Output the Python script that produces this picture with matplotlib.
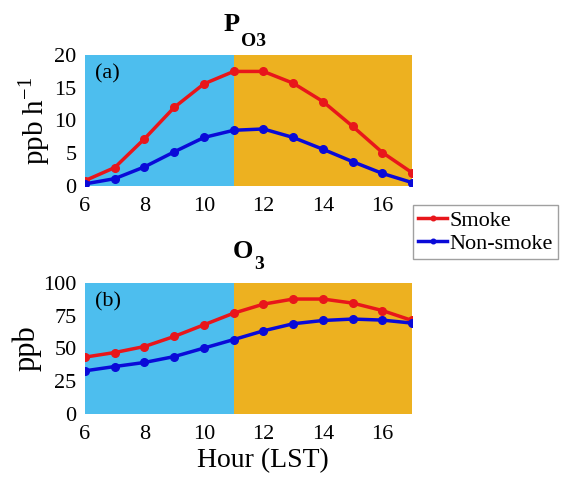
import matplotlib
matplotlib.use("Agg")
import matplotlib.pyplot as plt

plt.rcParams['font.family'] = ['Liberation Serif', 'DejaVu Serif']
plt.rcParams['mathtext.fontset'] = 'stix'

hours = [6, 7, 8, 9, 10, 11, 12, 13, 14, 15, 16, 17]
po3_smoke = [0.8, 2.8, 7.2, 12.0, 15.6, 17.5, 17.5, 15.7, 12.9, 9.1, 5.1, 2.0]
po3_nonsmoke = [0.3, 1.1, 2.9, 5.2, 7.4, 8.5, 8.7, 7.4, 5.6, 3.7, 1.9, 0.5]
o3_smoke = [43.4, 46.9, 51.5, 59.2, 68.1, 77.0, 83.9, 87.8, 87.8, 84.7, 79.0, 71.4]
o3_nonsmoke = [32.9, 36.2, 39.3, 43.8, 50.3, 56.8, 63.5, 68.9, 71.4, 72.5, 71.7, 69.4]

blue_bg = '#4DBEEE'
orange_bg = '#EDB120'
red = '#E8161B'
blue = '#0A0AD8'

fig = plt.figure(figsize=(5.63, 4.79), dpi=100)
ax1 = fig.add_axes([0.151, 0.612, 0.581, 0.273])
ax2 = fig.add_axes([0.151, 0.136, 0.581, 0.273])

def style(ax, ymax, yticks, label, tag, lsize, lpad):
    ax.axvspan(6, 11, color=blue_bg, zorder=0, lw=0)
    ax.axvspan(11, 17, color=orange_bg, zorder=0, lw=0)
    ax.set_xlim(6, 17)
    ax.set_ylim(0, ymax)
    ax.set_xticks([6, 8, 10, 12, 14, 16])
    ax.set_yticks(yticks)
    ax.tick_params(labelsize=16, length=0)
    ax.tick_params(axis='x', pad=8)
    ax.tick_params(axis='y', pad=6)
    for s in ax.spines.values():
        s.set_visible(False)
    ax.set_ylabel(label, fontsize=lsize, labelpad=lpad)
    ax.text(0.03, 0.93, tag, transform=ax.transAxes, fontsize=16, va='top')

def title(ax, main, sub, x, main_dy, sub_dy):
    ax.annotate(main, (x, 1), xycoords='axes fraction', xytext=(0, main_dy),
                textcoords='offset points', ha='right', va='baseline',
                fontsize=19, fontweight='bold')
    ax.annotate(sub, (x, 1), xycoords='axes fraction', xytext=(1, sub_dy),
                textcoords='offset points', ha='left', va='baseline',
                fontsize=14, fontweight='bold')

l1, = ax1.plot(hours, po3_smoke, '-o', color=red, lw=2.5, ms=5.5, label='Smoke')
l2, = ax1.plot(hours, po3_nonsmoke, '-o', color=blue, lw=2.5, ms=5.5, label='Non-smoke')
style(ax1, 20, [0, 5, 10, 15, 20], 'ppb h$^{\\mathregular{-1}}$', '(a)', 21, 1)
title(ax1, 'P', 'O3', 0.474, 17.5, 6.5)

ax2.plot(hours, o3_smoke, '-o', color=red, lw=2.5, ms=5.5)
ax2.plot(hours, o3_nonsmoke, '-o', color=blue, lw=2.5, ms=5.5)
style(ax2, 100, [0, 25, 50, 75, 100], 'ppb', '(b)', 22, 1)
title(ax2, 'O', '3', 0.514, 18, 10)
ax2.set_xlabel('Hour (LST)', fontsize=20)
ax2.xaxis.set_label_coords(0.544, -0.265)
ax2.xaxis.label.set_va('top')

fig.legend(handles=[l1, l2], loc='upper left', bbox_to_anchor=(0.733, 0.572),
           fontsize=16, frameon=True, fancybox=False, edgecolor='#888888',
           handlelength=1.3, handletextpad=0.1, borderpad=0.25, labelspacing=0.1,
           borderaxespad=0, markerscale=0.6)

fig.savefig('out.png', dpi=100)
